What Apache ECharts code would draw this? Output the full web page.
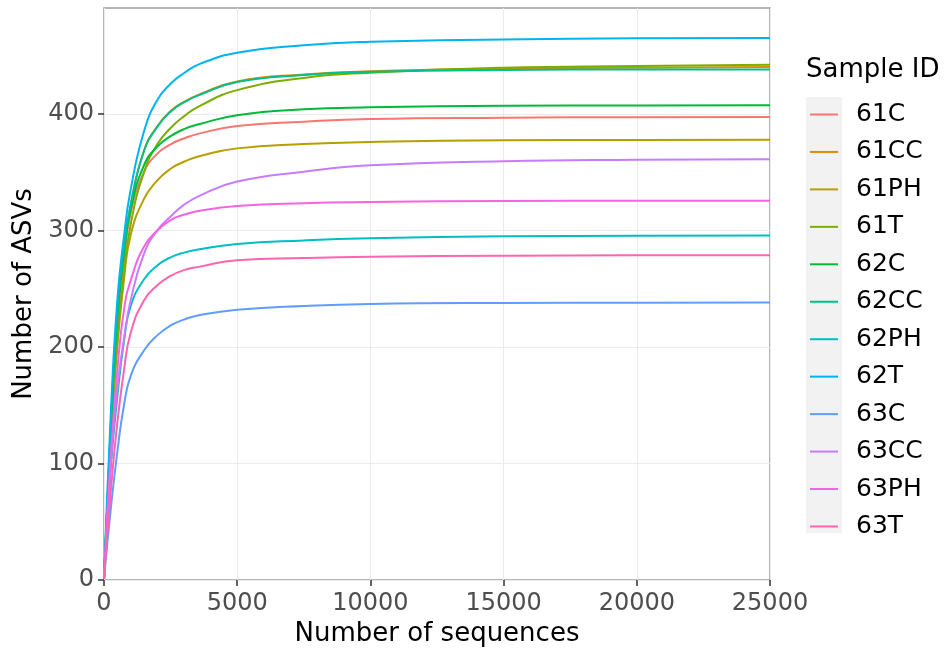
<!DOCTYPE html>
<html>
<head>
<meta charset="utf-8">
<script src="https://cdn.jsdelivr.net/npm/echarts@6/dist/echarts.min.js"></script>
<style>
html,body{margin:0;padding:0;background:#fff;}
#chart{width:946px;height:653px;}
</style>
</head>
<body>
<div id="chart"></div>
<script>
// Sequencing depths at which values were read
var depths = [1, 250, 500, 750, 1000, 1500, 2000, 2500, 3000, 3600, 5000, 7500, 10000, 15000, 20000, 25000];

var sampleIds = ['61C','61CC','61PH','61T','62C','62CC','62PH','62T','63C','63CC','63PH','63T'];
var sampleColors = ['#F8766D','#DE8C00','#B79F00','#7CAE00','#00BA38','#00C08B','#00BFC4','#00B4F0','#619CFF','#C77CFF','#F564E3','#FF64B0'];

var s61C  = [1, 122, 215, 272, 315, 350, 366, 374, 379, 383.4, 389.7, 393.4, 395.7, 396.8, 397.3, 397.4];
var s61CC = [1, 130, 230, 285, 322, 368.5, 389.5, 402.5, 410.5, 417, 428, 434, 436.7, 438.8, 439.8, 440.3];
var s61PH = [1, 115, 200, 258, 296, 327, 343, 353, 359, 364, 370.5, 374.2, 376, 377.4, 377.7, 377.8];
var s61T  = [1, 115, 205, 262, 305, 350, 374, 388, 398, 407, 420.5, 431, 435.5, 439.8, 441.2, 442.2];
var s62C  = [1, 128, 225, 280, 318, 356, 372, 381, 387, 391.5, 399, 404, 405.7, 407, 407.4, 407.5];
var s62CC = [1, 130, 230, 285, 322, 368, 389, 402, 410, 416.5, 427.5, 433.5, 436.2, 437.8, 438.2, 438.3];
var s62PH = [1, 95, 157, 205, 235, 258, 270, 277, 281, 284, 288.5, 291.5, 293.3, 295, 295.5, 295.7];
var s62T  = [1, 140, 240, 295, 335, 385, 412, 426, 435, 443, 452.5, 459, 462, 464, 465, 465.2];
var s63C  = [1, 60, 110, 150, 175, 197, 210, 218.5, 223.5, 227.5, 232, 235.3, 237, 237.8, 238, 238.2];
var s63CC = [1, 98, 165, 207, 240, 280, 300, 312, 322, 330, 342, 350.5, 356, 359.5, 360.7, 361.1];
var s63PH = [1, 105, 180, 232, 257, 286, 300, 309, 313.5, 317, 321, 323.5, 324.5, 325.3, 325.5, 325.6];
var s63T  = [1, 75, 135, 180, 212, 240, 253, 261, 266, 269, 274.5, 276.4, 277.5, 278.4, 278.7, 278.8];

var seriesValues = [s61C, s61CC, s61PH, s61T, s62C, s62CC, s62PH, s62T, s63C, s63CC, s63PH, s63T];

var xTicks = [0, 5000, 10000, 15000, 20000, 25000];
var yTicks = [0, 100, 200, 300, 400];

var FONT = 'DejaVu Sans';

var chart = echarts.init(document.getElementById('chart'), null, {renderer: 'canvas'});

var series = sampleIds.map(function (id, i) {
  return {
    name: id,
    type: 'line',
    data: depths.map(function (d, j) { return [d, seriesValues[i][j]]; }),
    showSymbol: false,
    symbol: 'none',
    smooth: 0.5,
    lineStyle: {width: 2, color: sampleColors[i]},
    itemStyle: {color: sampleColors[i]},
    emphasis: {disabled: true},
    animation: false
  };
});

chart.setOption({
  animation: false,
  backgroundColor: '#ffffff',
  grid: {
    left: 104, top: 8, width: 666, height: 572,
    show: true, borderColor: '#9E9E9E', borderWidth: 1.5, backgroundColor: '#ffffff',
    containLabel: false
  },
  title: {
    text: 'Sample ID',
    left: 801, top: 52,
    textStyle: {fontFamily: FONT, fontSize: 26, fontWeight: 'normal', color: '#000'}
  },
  legend: {
    orient: 'vertical',
    left: 810, top: 102,
    padding: 0,
    itemWidth: 28, itemHeight: 2,
    itemGap: 12.45,
    icon: 'rect',
    data: sampleIds,
    textStyle: {fontFamily: FONT, fontSize: 25, color: '#000', lineHeight: 24, padding: [0, 0, 0, 13]},
    selectedMode: false
  },
  graphic: [{
    type: 'rect', z: -10, silent: true,
    shape: {x: 806, y: 97, width: 36, height: 436},
    style: {fill: '#F2F2F2'}
  }],
  xAxis: {
    type: 'value', min: 0, max: 25000, interval: 5000,
    name: 'Number of sequences', nameLocation: 'middle', nameGap: 41,
    nameTextStyle: {fontFamily: FONT, fontSize: 26, color: '#000'},
    axisLine: {show: false},
    axisTick: {show: true, length: 6, lineStyle: {color: '#333', width: 1.5}, customValues: xTicks},
    axisLabel: {fontFamily: FONT, fontSize: 24, color: '#4D4D4D', margin: 12, customValues: xTicks,
      formatter: function (v) { return String(v); }},
    splitLine: {show: true, lineStyle: {color: '#EBEBEB', width: 1}}
  },
  yAxis: {
    type: 'value', min: 0, max: 491, interval: 100,
    name: 'Number of ASVs', nameLocation: 'middle', nameGap: 62,
    nameTextStyle: {fontFamily: FONT, fontSize: 26, color: '#000'},
    axisLine: {show: false},
    axisTick: {show: true, length: 6, lineStyle: {color: '#333', width: 1.5}, customValues: yTicks},
    axisLabel: {fontFamily: FONT, fontSize: 24, color: '#4D4D4D', margin: 10, customValues: yTicks,
      formatter: function (v) { return String(v); }},
    splitLine: {show: true, lineStyle: {color: '#EBEBEB', width: 1}}
  },
  series: series
});
</script>
</body>
</html>
